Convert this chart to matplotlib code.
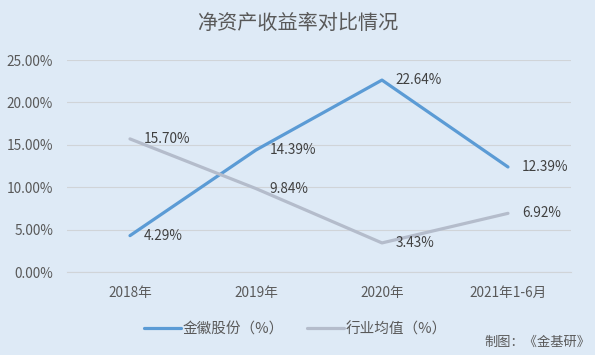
import matplotlib.pyplot as plt
from matplotlib.ticker import FuncFormatter

plt.rcParams['font.family'] = ['Noto Sans CJK SC', 'DejaVu Sans']

categories = ['2018年', '2019年', '2020年', '2021年1-6月']
jinhui = [4.29, 14.39, 22.64, 12.39]
industry = [15.70, 9.84, 3.43, 6.92]
yticks = [0, 5, 10, 15, 20, 25]

bg = '#DEEAF6'
blue = '#5B9BD5'
grey = '#B4BCCB'
txt = '#595959'

fig = plt.figure(figsize=(5.95, 3.55), dpi=100, facecolor=bg)
ax = fig.add_axes([0.1126, 0.2338, 0.847, 0.597], facecolor=bg)

x = range(len(categories))
ax.plot(x, jinhui, color=blue, lw=2.3, solid_capstyle='round', label='金徽股份（%）', zorder=3)
ax.plot(x, industry, color=grey, lw=2.3, solid_capstyle='round', label='行业均值（%）', zorder=3)

for xi, v in zip(x, jinhui):
    ax.annotate(f'{v:.2f}%', (xi, v), xytext=(10, 0), textcoords='offset points',
                ha='left', va='center', fontsize=9.8, color='#404040')
for xi, v in zip(x, industry):
    ax.annotate(f'{v:.2f}%', (xi, v), xytext=(10, 0), textcoords='offset points',
                ha='left', va='center', fontsize=9.8, color='#404040')

ax.set_xlim(-0.5, 3.5)
ax.set_ylim(0, 25)
ax.set_yticks(yticks)
ax.yaxis.set_major_formatter(FuncFormatter(lambda v, p: f'{v:.2f}%'))
ax.set_xticks(list(x))
ax.set_xticklabels(categories)
ax.tick_params(axis='both', length=0, labelsize=9.8, colors=txt)
ax.tick_params(axis='y', pad=10)
ax.tick_params(axis='x', pad=10)
ax.grid(axis='y', color='#D0D4D8', lw=0.8)
for s in ax.spines.values():
    s.set_visible(False)
ax.spines['bottom'].set_visible(True)
ax.spines['bottom'].set_color('#D0D4D8')

fig.text(0.5, 0.935, '净资产收益率对比情况', ha='center', va='center', fontsize=14.5, color=txt)

fig.legend(loc='center', bbox_to_anchor=(0.497, 0.072), ncol=2, frameon=False,
           fontsize=10.5, handlelength=2.5, columnspacing=1.6, handletextpad=0.15,
           labelcolor=txt)
fig.text(0.992, 0.035, '制图：《金基研》', ha='right', va='center', fontsize=9.5, color=txt)

fig.savefig('out.png', dpi=100, facecolor=bg)
